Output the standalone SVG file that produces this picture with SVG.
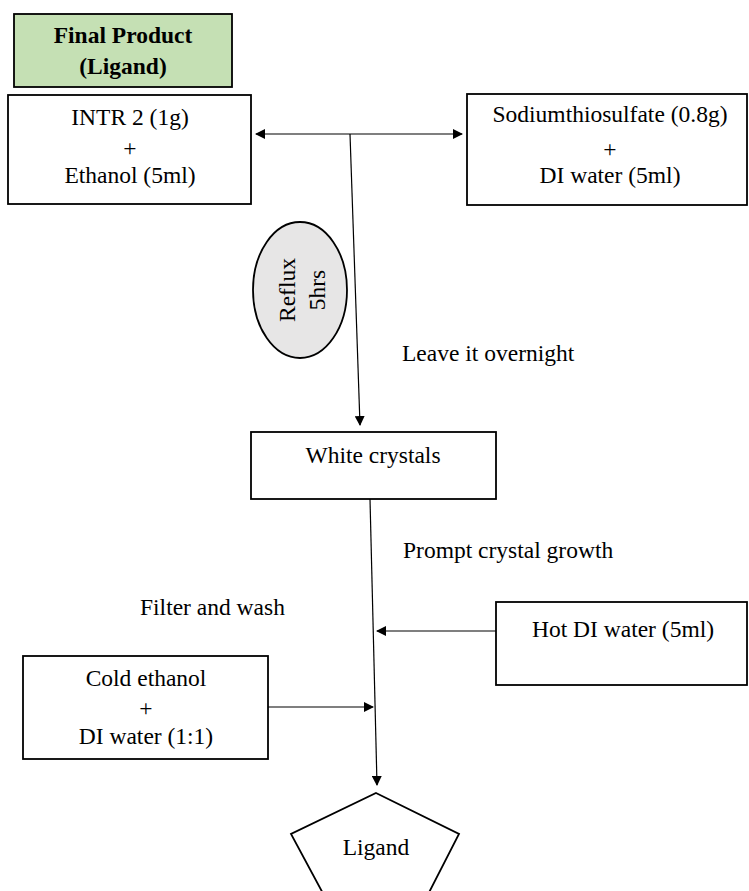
<svg xmlns="http://www.w3.org/2000/svg" width="749" height="891" viewBox="0 0 749 891">
<style>
text{font-family:"Liberation Serif","Times New Roman",serif;font-size:23.5px;fill:#000;text-anchor:middle}
.b{font-weight:bold;font-size:23.5px}
.l{text-anchor:start}
.box{fill:#fff;stroke:#000;stroke-width:1.8}
.ln{stroke:#000;stroke-width:1.2;fill:none}
</style>
<defs>
<marker id="ah" markerWidth="10" markerHeight="10" refX="9" refY="5" orient="auto" markerUnits="userSpaceOnUse"><path d="M0,0 L10,5 L0,10 Z" fill="#000"/></marker>
<marker id="as" markerWidth="10" markerHeight="10" refX="1" refY="5" orient="auto" markerUnits="userSpaceOnUse"><path d="M10,0 L0,5 L10,10 Z" fill="#000"/></marker>
</defs>
<g id="final-product">
<rect x="14" y="14" width="218" height="73" fill="#c5e0b4" stroke="#000" stroke-width="1.8"/>
<text class="b" x="123" y="43">Final Product</text>
<text class="b" x="123" y="74">(Ligand)</text>
</g>
<g id="intr">
<rect class="box" x="8" y="95" width="243" height="109"/>
<text x="130" y="125">INTR 2 (1g)</text>
<text x="130" y="156">+</text>
<text x="130" y="183">Ethanol (5ml)</text>
</g>
<g id="sodium">
<rect class="box" x="467" y="94" width="280" height="111"/>
<text x="610" y="122">Sodiumthiosulfate (0.8g)</text>
<text x="610" y="157">+</text>
<text x="610" y="183">DI water (5ml)</text>
</g>
<g id="reflux">
<ellipse cx="300" cy="290" rx="47" ry="68" fill="#e7e6e6" stroke="#000" stroke-width="1.8"/>
<text transform="translate(295,290) rotate(-90)">Reflux</text>
<text transform="translate(325,290) rotate(-90)">5hrs</text>
</g>
<g id="white-crystals">
<rect class="box" x="251" y="432" width="245" height="67"/>
<text x="373" y="463">White crystals</text>
</g>
<g id="hot-water">
<rect class="box" x="496" y="602" width="251" height="83"/>
<text x="623" y="637">Hot DI water (5ml)</text>
</g>
<g id="cold-ethanol">
<rect class="box" x="23" y="656" width="245" height="103"/>
<text x="146" y="686">Cold ethanol</text>
<text x="146" y="716">+</text>
<text x="146" y="744">DI water (1:1)</text>
</g>
<g id="ligand">
<polygon points="376,793 459,834 419,912 333,912 291,834" fill="#fff" stroke="#000" stroke-width="1.8"/>
<text x="376" y="855">Ligand</text>
</g>
<g id="labels">
<text class="l" x="402" y="361">Leave it overnight</text>
<text class="l" x="403" y="558">Prompt crystal growth</text>
<text class="l" x="140" y="615">Filter and wash</text>
</g>
<g id="connectors">
<line class="ln" x1="256" y1="134" x2="462" y2="134" marker-start="url(#as)" marker-end="url(#ah)"/>
<line class="ln" x1="350" y1="134" x2="360" y2="425" marker-end="url(#ah)"/>
<line class="ln" x1="370" y1="499" x2="377" y2="785" marker-end="url(#ah)"/>
<line class="ln" x1="496" y1="631" x2="377" y2="631" marker-end="url(#ah)"/>
<line class="ln" x1="268" y1="707" x2="373" y2="707" marker-end="url(#ah)"/>
</g>
</svg>
